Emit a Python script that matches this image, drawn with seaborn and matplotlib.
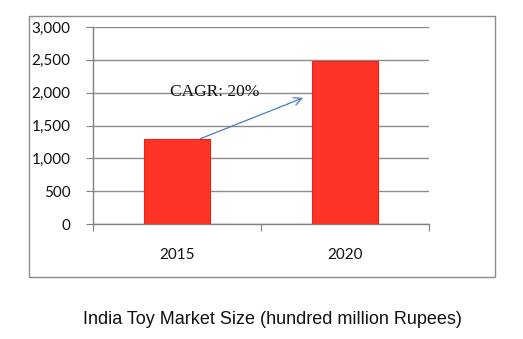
import matplotlib
matplotlib.use("Agg")
import matplotlib.pyplot as plt
import seaborn as sns
import pandas as pd
from matplotlib.patches import Rectangle

years = ["2015", "2020"]
market_size = [1300, 2485]
yticks = [0, 500, 1000, 1500, 2000, 2500, 3000]
cagr_label = "CAGR: 20%"
caption = "India Toy Market Size (hundred million Rupees)"

df = pd.DataFrame({"year": years, "size": market_size})

sns.set_theme(style="white")
W, H = 523, 339
fig = plt.figure(figsize=(W / 100, H / 100), dpi=100)
ax = fig.add_axes([93 / W, 1 - 224 / H, (429 - 93) / W, (224 - 27) / H])

sns.barplot(data=df, x="year", y="size", ax=ax, color="#ff3326",
            width=0.39, edgecolor="#e8231a", linewidth=0.8, saturation=1, zorder=3)

ax.set_xlim(-0.5, 1.5)
ax.set_ylim(0, 3000)
ax.set_yticks(yticks)
ax.set_yticklabels([f"{v:,}" for v in yticks], family="Lato", fontsize=11, color="#111111")
ax.set_xticks(range(len(years)))
ax.set_xticklabels(years, family="Lato", fontsize=11, color="#111111")
ax.set_xlabel("")
ax.set_ylabel("")
ax.tick_params(axis="x", which="major", length=0, pad=17)
ax.set_xticks([-0.5, 0.5, 1.5], minor=True)
ax.tick_params(axis="x", which="minor", length=5, color="#808080", width=0.8, direction="out")
ax.tick_params(axis="y", which="major", length=5, color="#808080", width=0.8, direction="out", pad=11)
ax.yaxis.tick_left()
ax.xaxis.tick_bottom()

ax.grid(axis="y", color="#8c8c8c", linewidth=1, zorder=0)
ax.set_axisbelow(True)
for s in ["top", "right"]:
    ax.spines[s].set_visible(False)
for s in ["left", "bottom"]:
    ax.spines[s].set_color("#808080")
    ax.spines[s].set_linewidth(1)

ax.annotate("", xy=(0.75, 1920), xytext=(0.14, 1300),
            arrowprops=dict(arrowstyle="->", color="#4a7ebb", lw=0.9,
                            mutation_scale=14, shrinkA=0, shrinkB=0), zorder=5)
ax.text(0.226, 2010, cagr_label, family="Liberation Serif", fontsize=12.5,
        ha="center", va="center", color="#111111", zorder=6)

fig.patches.append(Rectangle((29 / W, 1 - 277 / H), (495 - 29) / W, (277 - 16) / H,
                             transform=fig.transFigure, fill=False,
                             edgecolor="#8c8c8c", linewidth=1))

fig.text(272 / W, 1 - 320 / H, caption, family="Liberation Sans", fontsize=13,
         ha="center", va="center", color="#111111")

fig.savefig("out.png", dpi=100)
